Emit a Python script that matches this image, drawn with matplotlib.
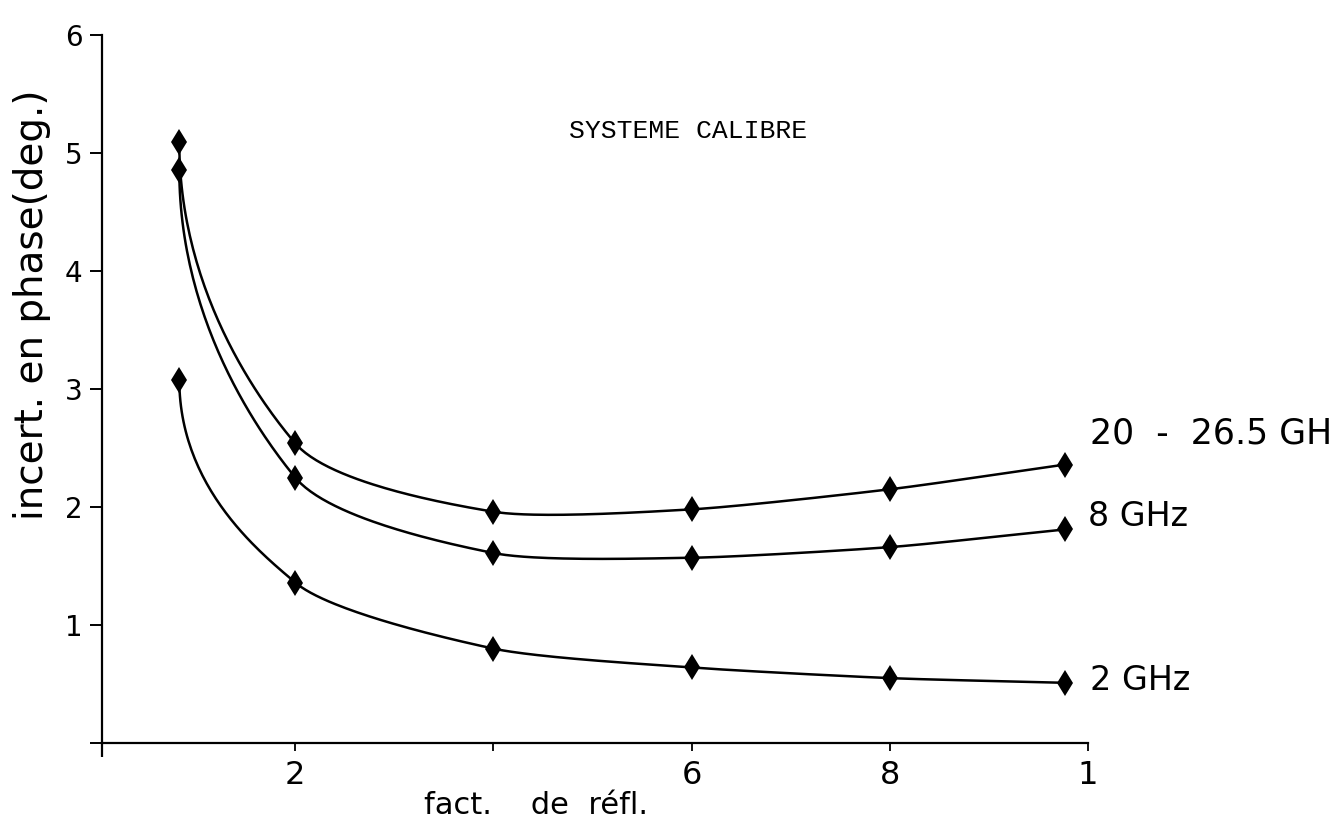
import numpy as np
import matplotlib
matplotlib.use("Agg")
import matplotlib.pyplot as plt

# values
refl = [0.083, 0.2, 0.4, 0.6, 0.8, 0.977]
phase_26 = [5.09, 2.54, 1.96, 1.98, 2.15, 2.36]
phase_8 = [4.86, 2.25, 1.61, 1.57, 1.66, 1.81]
phase_2 = [3.08, 1.36, 0.80, 0.64, 0.55, 0.51]
# the top label runs off the edge of the scan, only "GH" is visible
series_labels = ["20  -  26.5 GH", "8 GHz", "2 GHz"]
x_ticks = [0.2, 0.4, 0.6, 0.8, 1.0]
x_tick_labels = ["2", "", "6", "8", "1"]
y_ticks = [0, 1, 2, 3, 4, 5, 6]
y_tick_labels = ["", "1", "2", "3", "4", "5", "6"]

font = "DejaVu Sans"
line_width = 1.8
marker_size = 13
tension = 0.35
W, H = 1343, 826


def smooth_curve(ax, xs, ys, n=60):
    # hand-drawn look: hermite curve through the points in display space,
    # leaving the first point straight downwards
    pts = ax.transData.transform(np.column_stack([xs, ys]))
    tang = np.zeros_like(pts)
    for i in range(1, len(pts) - 1):
        tang[i] = (1 - tension) * (pts[i + 1] - pts[i - 1]) / 2
    tang[-1] = pts[-1] - pts[-2]
    tang[0] = [0, -1.4 * np.hypot(*(pts[1] - pts[0]))]
    t = np.linspace(0, 1, n)[:, None]
    h00 = 2 * t**3 - 3 * t**2 + 1
    h10 = t**3 - 2 * t**2 + t
    h01 = -2 * t**3 + 3 * t**2
    h11 = t**3 - t**2
    segs = [h00 * pts[i] + h10 * tang[i] + h01 * pts[i + 1] + h11 * tang[i + 1]
            for i in range(len(pts) - 1)]
    xy = ax.transData.inverted().transform(np.vstack(segs))
    return xy[:, 0], xy[:, 1]


fig = plt.figure(figsize=(W / 100, H / 100), dpi=100)
ax = fig.add_axes([102 / W, 1 - 743 / H, (1088 - 102) / W, (743 - 35) / H])
ax.set_xlim(0.005, 1.0)
ax.set_ylim(0, 6)

for vals in [phase_26, phase_8, phase_2]:
    cx, cy = smooth_curve(ax, refl, vals)
    ax.plot(cx, cy, color="black", linewidth=line_width, solid_capstyle="round")
    ax.plot(refl, vals, linestyle="none", marker="d", markersize=marker_size,
            color="black", markeredgewidth=0)

for spine in ["top", "right"]:
    ax.spines[spine].set_visible(False)
for spine in ["left", "bottom"]:
    ax.spines[spine].set_linewidth(1.6)

ax.set_xticks(x_ticks, labels=x_tick_labels)
ax.set_xticks([0.005], minor=True)
ax.set_yticks(y_ticks, labels=y_tick_labels)
ax.tick_params(axis="x", which="major", direction="out", length=6, width=1.3,
               labelsize=23, pad=6)
ax.tick_params(axis="x", which="minor", direction="out", length=10, width=1.6)
ax.tick_params(axis="y", direction="out", length=9, width=1.4, labelsize=20, pad=5)
for lab in ax.get_xticklabels() + ax.get_yticklabels():
    lab.set_family(font)

fig.text(32 / W, 1 - 305 / H, "incert. en phase(deg.)", rotation=90,
         ha="center", va="center", fontsize=28, family=font)
fig.text(536 / W, 1 - 805 / H, "fact.    de  réfl.", ha="center", va="center",
         fontsize=22, family=font)
fig.text(688 / W, 1 - 131 / H, "SYSTEME CALIBRE", ha="center", va="center",
         fontsize=19, family="Liberation Mono")

label_pos = [(1090, 433), (1088, 516), (1090, 681)]
label_size = [25, 24, 24]
for text, (px, py), fs in zip(series_labels, label_pos, label_size):
    fig.text(px / W, 1 - py / H, text, ha="left", va="center", fontsize=fs,
             family=font)

fig.savefig("out.png", dpi=100)
